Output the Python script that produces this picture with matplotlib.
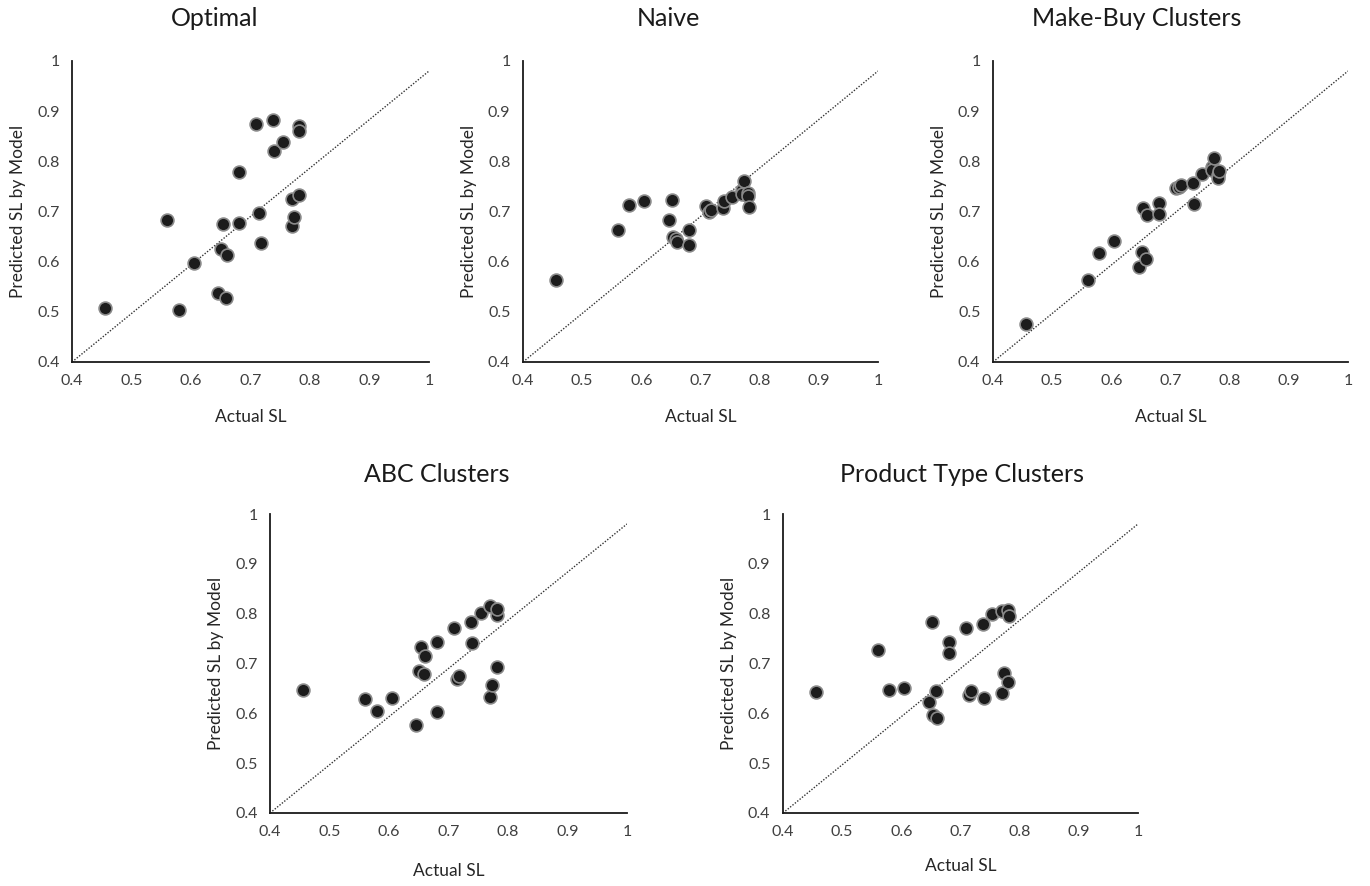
import matplotlib.pyplot as plt

plt.rcParams['font.family'] = ['Lato', 'DejaVu Sans']

# actual service level of each item (shared by all panels)
actual = [0.456, 0.560, 0.579, 0.605, 0.646, 0.651, 0.654, 0.658, 0.660, 0.681, 0.681,
          0.710, 0.714, 0.718, 0.738, 0.739, 0.754, 0.770, 0.770, 0.773, 0.781, 0.781, 0.782]

# predicted service level per model, same item order as actual
pred_optimal = [0.507, 0.683, 0.504, 0.598, 0.537, 0.625, 0.676, 0.528, 0.613, 0.677, 0.778,
                0.875, 0.698, 0.637, 0.882, 0.820, 0.839, 0.725, 0.671, 0.689, 0.733, 0.870, 0.861]
pred_naive = [0.564, 0.664, 0.713, 0.720, 0.684, 0.723, 0.650, 0.645, 0.640, 0.663, 0.634,
              0.710, 0.699, 0.703, 0.706, 0.721, 0.728, 0.743, 0.735, 0.760, 0.736, 0.731, 0.709]
pred_makebuy = [0.476, 0.564, 0.617, 0.642, 0.590, 0.620, 0.707, 0.606, 0.693, 0.717, 0.696,
                0.747, 0.749, 0.752, 0.756, 0.714, 0.775, 0.789, 0.783, 0.807, 0.772, 0.767, 0.780]
pred_abc = [0.646, 0.628, 0.605, 0.630, 0.576, 0.684, 0.733, 0.679, 0.715, 0.743, 0.602,
            0.772, 0.668, 0.674, 0.783, 0.741, 0.802, 0.816, 0.633, 0.656, 0.692, 0.797, 0.809]
pred_ptype = [0.642, 0.728, 0.646, 0.650, 0.623, 0.783, 0.596, 0.644, 0.591, 0.743, 0.721,
              0.771, 0.637, 0.644, 0.780, 0.630, 0.799, 0.805, 0.640, 0.680, 0.663, 0.807, 0.795]

titles = ["Optimal", "Naive", "Make-Buy Clusters", "ABC Clusters", "Product Type Clusters"]
preds = [pred_optimal, pred_naive, pred_makebuy, pred_abc, pred_ptype]

# reference line (hand drawn in the original, ends a bit below 1)
diag_x = [0.4, 1.0]
diag_y = [0.4, 0.98]

ticks = [0.4, 0.5, 0.6, 0.7, 0.8, 0.9, 1.0]
tick_labels = ["0.4", "0.5", "0.6", "0.7", "0.8", "0.9", "1"]

fig = plt.figure(figsize=(13.7, 8.86), dpi=100)
W, H = 1370, 886

# axes boxes in pixels: left, top, right, bottom
boxes = [(72, 61, 429, 362), (523, 61, 878, 362), (993, 61, 1348, 362),
         (270, 514, 627, 813), (783, 514, 1138, 813)]
# title centres in pixels (excel centres them on the whole chart block)
title_pos = [(215, 18), (668, 18), (1137, 18), (437, 474), (962, 474)]
xlabel_pad = [15, 15, 15, 17, 13]

for (l, t, r, b), title, pred, (tx, ty), xp in zip(boxes, titles, preds, title_pos, xlabel_pad):
    ax = fig.add_axes([l / W, 1 - b / H, (r - l) / W, (b - t) / H])
    ax.plot(diag_x, diag_y, color='#333333', lw=1, linestyle=(0, (1, 1.2)), zorder=1)
    ax.scatter(actual, pred, s=85, color='#1c1c1c', edgecolors='#8a8a8a',
               linewidths=1.2, zorder=3, clip_on=False)
    ax.set_xlim(0.4, 1.0)
    ax.set_ylim(0.4, 1.0)
    ax.set_xticks(ticks)
    ax.set_xticklabels(tick_labels)
    ax.set_yticks(ticks)
    ax.set_yticklabels(tick_labels)
    ax.tick_params(length=0, labelsize=11.5, colors='#404040', pad=9)
    for s in ['top', 'right']:
        ax.spines[s].set_visible(False)
    for s in ['left', 'bottom']:
        ax.spines[s].set_color('#1a1a1a')
        ax.spines[s].set_linewidth(1.3)
    fig.text(tx / W, 1 - ty / H, title, fontsize=18, color='#1a1a1a', ha='center', va='center')
    ax.set_xlabel("Actual SL", fontsize=12.5, color='#262626', labelpad=xp)
    ax.set_ylabel("Predicted SL by Model", fontsize=12.5, color='#262626', labelpad=8)

fig.savefig("out.png", dpi=100)
